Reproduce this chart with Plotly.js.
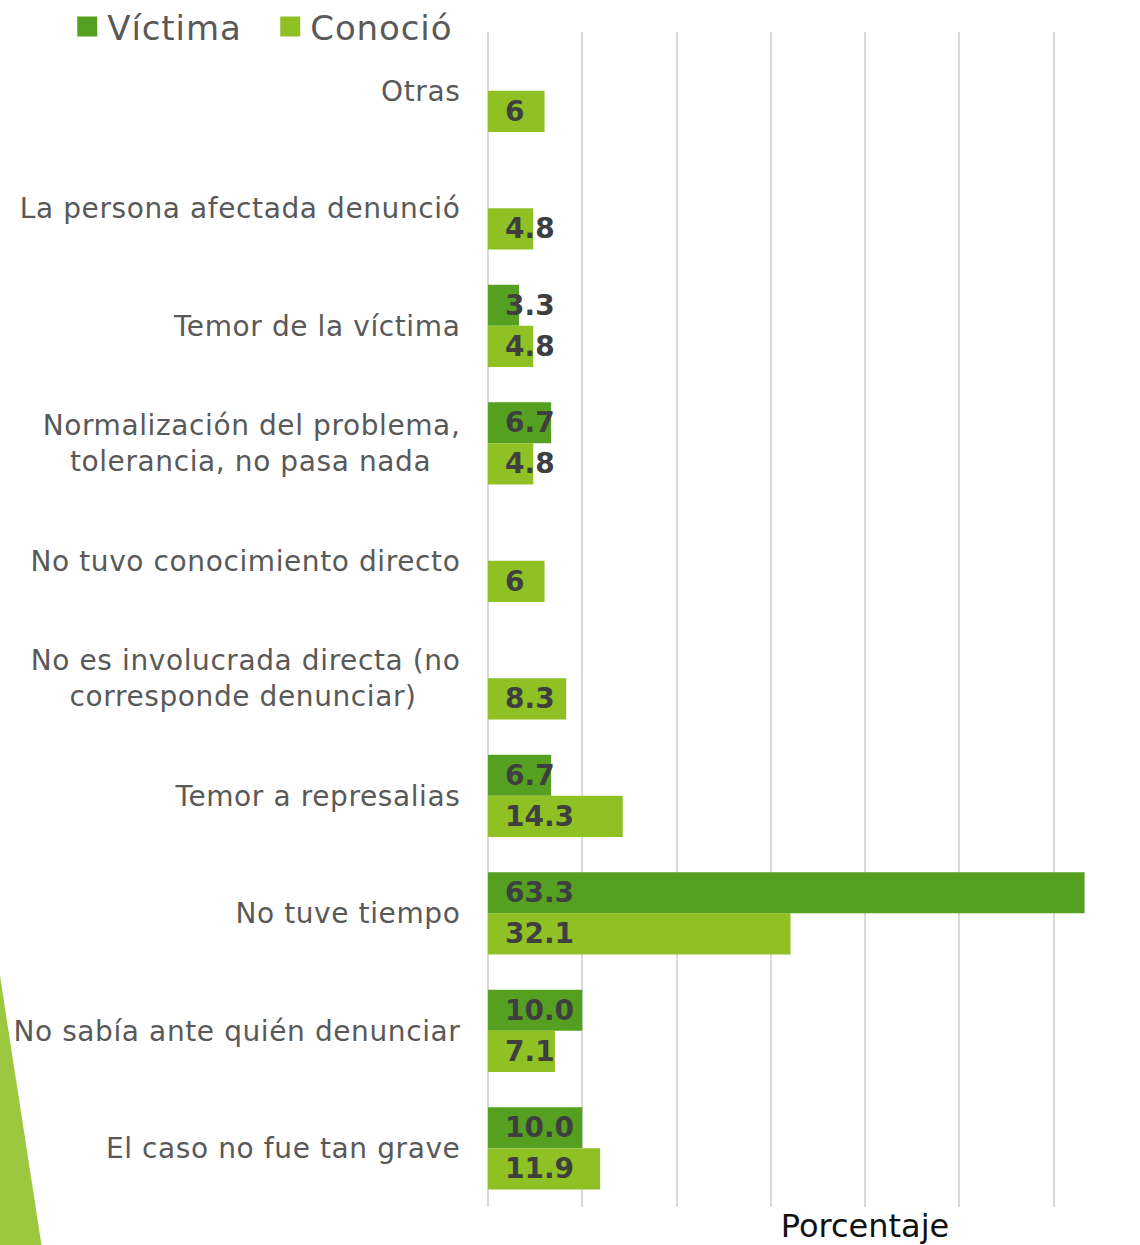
<!DOCTYPE html>
<html>
<head>
<meta charset="utf-8">
<script src="https://cdn.plot.ly/plotly-3.0.1.min.js"></script>
<style>
  html, body { margin: 0; padding: 0; background: #fff; overflow: hidden; }
  #chart { width: 1252px; height: 1245px; }
  #chart .ytick text { letter-spacing: 0.6px; }
  #chart .legendtext { letter-spacing: 0.9px; }
</style>
</head>
<body>
<div id="chart"></div>
<script>
(function () {
  "use strict";

  // categories, top to bottom
  var categories = [
    "Otras",
    "La persona afectada denunció",
    "Temor de la víctima",
    "Normalización del problema,<br>tolerancia, no pasa nada\u2002\u2002",
    "No tuvo conocimiento directo",
    "No es involucrada directa (no<br>corresponde denunciar)\u2002\u2002\u2002",
    "Temor a represalias",
    "No tuve tiempo",
    "No sabía ante quién denunciar",
    "El caso no fue tan grave"
  ];
  var victima = [null, null, 3.3, 6.7, null, null, 6.7, 63.3, 10.0, 10.0];
  var victimaText = ["", "", "3.3", "6.7", "", "", "6.7", "63.3", "10.0", "10.0"];
  var conocio = [6, 4.8, 4.8, 4.8, 6, 8.3, 14.3, 32.1, 7.1, 11.9];
  var conocioText = ["6", "4.8", "4.8", "4.8", "6", "8.3", "14.3", "32.1", "7.1", "11.9"];

  var colors = { victima: "#55a021", conocio: "#8fc124", text: "#595959", label: "#3f3f3f", grid: "#d9d9d9", deco: "#9cc83f" };
  var pad = "\u2002";
  var labelFont = { family: "DejaVu Sans, sans-serif", size: 28, color: colors.label, weight: "bold" };

  function barTrace(name, values, texts, color) {
    return {
      name: name, type: "bar", orientation: "h",
      y: categories, x: values,
      text: texts.map(function (t) { return t ? pad + t : ""; }),
      textposition: "inside", insidetextanchor: "start", constraintext: "none", textangle: 0,
      textfont: labelFont, insidetextfont: labelFont,
      hoverinfo: "skip",
      marker: { color: color }
    };
  }

  var data = [
    barTrace("Víctima", victima, victimaText, colors.victima),
    barTrace("Conoció", conocio, conocioText, colors.conocio)
  ];

  var layout = {
    width: 1252, height: 1245,
    margin: { l: 488, r: 10, t: 32, b: 38, autoexpand: false },
    paper_bgcolor: "#fff", plot_bgcolor: "#fff",
    font: { family: "DejaVu Sans, sans-serif", color: colors.text },
    barmode: "group", bargap: 0.3, bargroupgap: 0,
    showlegend: true,
    legend: {
      orientation: "h", x: -0.558, xanchor: "left", y: 1.029, yanchor: "top",
      font: { size: 34, color: colors.text }, traceorder: "normal",
      entrywidth: 158, entrywidthmode: "pixels", bgcolor: "rgba(0,0,0,0)"
    },
    xaxis: {
      range: [0, 80], dtick: 10, showticklabels: false, ticks: "",
      showgrid: true, gridcolor: colors.grid, gridwidth: 2,
      zeroline: true, zerolinecolor: colors.grid, zerolinewidth: 2,
      showline: false, fixedrange: true,
      title: { text: "Porcentaje", font: { size: 32, color: "#111" }, standoff: 14 }
    },
    yaxis: {
      type: "category", autorange: "reversed", fixedrange: true,
      showgrid: false, zeroline: false, showline: false,
      ticks: "outside", ticklen: 21, tickcolor: "rgba(0,0,0,0)",
      tickfont: { size: 28, color: colors.text }
    },
    shapes: [{
      type: "path", xref: "paper", yref: "paper", layer: "above",
      path: "M -0.648,0.2 L -0.592,-0.033 L -0.648,-0.033 Z",
      fillcolor: colors.deco, line: { width: 0 }
    }]
  };

  Plotly.newPlot("chart", data, layout, { displayModeBar: false, staticPlot: true }).then(function (gd) {
    // larger legend swatches, as in the original
    gd.querySelectorAll(".legendpoints path").forEach(function (p) {
      p.setAttribute("d", "M10,10H-10V-10H10Z");
    });
  });
}());
</script>
</body>
</html>
